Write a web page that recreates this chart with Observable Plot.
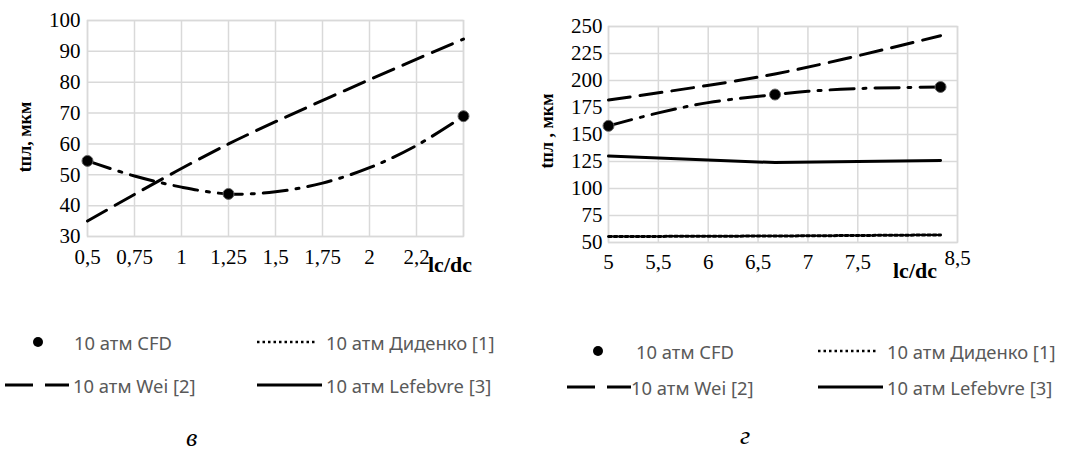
<!DOCTYPE html>
<html>
<head>
<meta charset="utf-8">
<script src="https://cdn.jsdelivr.net/npm/d3@7"></script>
<script src="https://cdn.jsdelivr.net/npm/@observablehq/plot@0.6"></script>
<style>
  html, body { margin: 0; padding: 0; background: #fff; }
  #wrap { position: relative; width: 1091px; height: 452px; background: #fff; overflow: hidden; }
  .chart { position: absolute; top: 0; }
  .chart text { font-family: "Liberation Serif", "Times New Roman", serif !important; font-size: 21px; fill: #000; }
  .legend { position: absolute; font-family: "Noto Sans", sans-serif; font-size: 18.4px; color: #595959; }
  .item { position: absolute; display: flex; align-items: center; white-space: nowrap; }
  .item svg { display: block; }
  .cap { position: absolute; font-family: "Liberation Serif", serif; font-style: italic; font-size: 26px; color: #000; line-height: 1; height: 26px; }
</style>
</head>
<body>
<div id="wrap"></div>
<script>
// ---- Data: chart "в" (left) ----
const leftX = [0.5, 1.25, 2.5];
const leftCFD = [54.5, 43.8, 69];
const leftWei = [35, 60, 94];
// dash-dot trend curve
const leftCurveX = [0.5, 0.75, 1, 1.25, 1.5, 1.75, 2, 2.25, 2.5];
const leftCurveY = [54.5, 49.6, 46, 43.8, 44.5, 47.3, 52.3, 59.5, 69];
const leftXTicks = [0.5, 0.75, 1, 1.25, 1.5, 1.75, 2, 2.25, 2.5];
const leftXLabels = ["0,5", "0,75", "1", "1,25", "1,5", "1,75", "2", "2,2", ""];
const leftYTicks = [30, 40, 50, 60, 70, 80, 90, 100];

// ---- Data: chart "г" (right) ----
const rightX = [5, 6.67, 8.33];
const rightCFD = [158, 187, 194];
const rightWei = [182, 206, 241.5];
const rightLefebvre = [130, 124, 126];
const rightDidenko = [55.5, 56, 57];
// dash-dot trend curve
const rightCurveX = [5, 5.5, 6, 6.67, 7, 7.5, 8, 8.33];
const rightCurveY = [158, 170, 179.5, 187, 190, 192.5, 193.5, 194];
const rightXTicks = [5, 5.5, 6, 6.5, 7, 7.5, 8, 8.5];
const rightXLabels = ["5", "5,5", "6", "6,5", "7", "7,5", "", "8,5"];
const rightYTicks = [50, 75, 100, 125, 150, 175, 200, 225, 250];

const legendItems = [
  {label: "10 атм CFD", kind: "dot"},
  {label: "10 атм Диденко [1]", kind: "dotted"},
  {label: "10 атм Wei [2]", kind: "dashed"},
  {label: "10 атм Lefebvre [3]", kind: "solid"}
];

const GRID = "#d9d9d9";
const DASH = "22,10";
const DASHDOT = "24,9,3,9";
const DOTTED = "3,2.5";
const SW = 3;
const SERIF = "Liberation Serif, Times New Roman, serif";

const pts = (xs, ys) => xs.map((x, i) => ({x, y: ys[i]}));
const wrap = document.getElementById("wrap");

function labelFor(ticks, labels) {
  return d => { const i = ticks.indexOf(d); return i >= 0 ? labels[i] : ""; };
}
const axisStyle = {fontFamily: SERIF, fontSize: 21, fill: "#000", tickSize: 0, label: null};

// ---- Left chart ----
const left = Plot.plot({
  width: 545, height: 290,
  marginLeft: 87, marginRight: 82, marginTop: 20, marginBottom: 54,
  style: {fontFamily: SERIF, fontSize: "21px", color: "#000", background: "transparent", overflow: "visible"},
  x: {domain: [0.5, 2.5]},
  y: {domain: [30, 100]},
  marks: [
    Plot.gridX(leftXTicks, {stroke: GRID, strokeOpacity: 1, strokeWidth: 1.5}),
    Plot.gridY(leftYTicks, {stroke: GRID, strokeOpacity: 1, strokeWidth: 1.5}),
    Plot.frame({stroke: GRID, strokeWidth: 1.5}),
    Plot.line(pts(leftX, leftWei), {x: "x", y: "y", curve: "catmull-rom", stroke: "#000", strokeWidth: SW, strokeDasharray: DASH}),
    Plot.line(pts(leftCurveX, leftCurveY), {x: "x", y: "y", curve: "catmull-rom", stroke: "#000", strokeWidth: SW, strokeDasharray: DASHDOT}),
    Plot.dot(pts(leftX, leftCFD), {x: "x", y: "y", r: 5.5, fill: "#000", stroke: "#666", strokeWidth: 1}),
    Plot.axisX(leftXTicks, {...axisStyle, tickPadding: 13, tickFormat: labelFor(leftXTicks, leftXLabels)}),
    Plot.axisY(leftYTicks, {...axisStyle, tickPadding: 7})
  ]
});
left.classList.add("chart");
left.style.left = "0px";
wrap.appendChild(left);

// ---- Right chart ----
const right = Plot.plot({
  width: 551, height: 290,
  marginLeft: 68, marginRight: 134, marginTop: 26, marginBottom: 48,
  style: {fontFamily: SERIF, fontSize: "21px", color: "#000", background: "transparent", overflow: "visible"},
  x: {domain: [5, 8.5]},
  y: {domain: [50, 250]},
  marks: [
    Plot.gridX(rightXTicks, {stroke: GRID, strokeOpacity: 1, strokeWidth: 1.5}),
    Plot.gridY(rightYTicks, {stroke: GRID, strokeOpacity: 1, strokeWidth: 1.5}),
    Plot.frame({stroke: GRID, strokeWidth: 1.5}),
    Plot.line(pts(rightX, rightDidenko), {x: "x", y: "y", stroke: "#000", strokeWidth: SW, strokeDasharray: DOTTED}),
    Plot.line(pts(rightX, rightLefebvre), {x: "x", y: "y", stroke: "#000", strokeWidth: SW}),
    Plot.line(pts(rightX, rightWei), {x: "x", y: "y", curve: "catmull-rom", stroke: "#000", strokeWidth: SW, strokeDasharray: DASH}),
    Plot.line(pts(rightCurveX, rightCurveY), {x: "x", y: "y", curve: "catmull-rom", stroke: "#000", strokeWidth: SW, strokeDasharray: DASHDOT}),
    Plot.dot(pts(rightX, rightCFD), {x: "x", y: "y", r: 5.5, fill: "#000", stroke: "#666", strokeWidth: 1}),
    Plot.axisX(rightXTicks.slice(0, 7), {...axisStyle, tickPadding: 12, tickFormat: labelFor(rightXTicks, rightXLabels)}),
    Plot.axisX(rightXTicks.slice(7), {...axisStyle, tickPadding: 8, tickFormat: labelFor(rightXTicks, rightXLabels)}),
    Plot.axisY(rightYTicks, {...axisStyle, tickPadding: 6})
  ]
});
right.classList.add("chart");
right.style.left = "540px";
wrap.appendChild(right);

// ---- Axis titles ----
function addTitles(svg, xt, yt) {
  const s = d3.select(svg);
  s.append("text").attr("x", xt.x).attr("y", xt.y).attr("text-anchor", "middle")
    .attr("font-weight", "bold").style("font-size", "22px")
    .text("lc/dc");
  s.append("text").attr("transform", `translate(${yt.x},${yt.y}) rotate(-90)`).attr("text-anchor", "middle")
    .attr("font-weight", "bold").style("font-size", "18px")
    .attr("dy", "0.35em").text(yt.text);
}
addTitles(left, {x: 450, y: 272}, {x: 25, y: 137, text: "tпл, мкм"});
addTitles(right, {x: 375, y: 278}, {x: 7, y: 131, text: "tпл , мкм"});

// ---- Legends ----
function swatch(kind) {
  const w = kind === "dashed" ? 64 : kind === "solid" ? 65 : 58;
  let inner = "";
  if (kind === "dot") inner = `<circle cx="${w/2}" cy="8" r="5" fill="#000"/>`;
  if (kind === "dotted") inner = `<line x1="0" y1="8" x2="${w}" y2="8" stroke="#000" stroke-width="2.5" stroke-dasharray="2.5,3"/>`;
  if (kind === "dashed") inner = `<line x1="0" y1="8" x2="${w}" y2="8" stroke="#000" stroke-width="3" stroke-dasharray="28,12"/>`;
  if (kind === "solid") inner = `<line x1="0" y1="8" x2="${w}" y2="8" stroke="#000" stroke-width="3"/>`;
  return `<svg width="${w}" height="16">${inner}</svg>`;
}
function addLegend(ox, row1, row2, pos) {
  const lg = document.createElement("div");
  lg.className = "legend";
  lg.style.left = "0px"; lg.style.top = "0px";
  legendItems.forEach((it, i) => {
    const p = pos[i];
    const d = document.createElement("div");
    d.className = "item";
    d.style.left = (ox + p.sx) + "px";
    d.style.top = ((i < 2 ? row1 : row2) - 13) + "px";
    d.style.height = "24px";
    d.innerHTML = swatch(it.kind) + `<span style="margin-left:${p.gap}px">${it.label}</span>`;
    lg.appendChild(d);
  });
  wrap.appendChild(lg);
}
addLegend(0, 343, 386, [
  {sx: 9, gap: 7}, {sx: 257, gap: 11}, {sx: 5, gap: 4}, {sx: 257, gap: 4}
]);
addLegend(545, 352, 388, [
  {sx: 24, gap: 9}, {sx: 273, gap: 11}, {sx: 22, gap: 0}, {sx: 273, gap: 4}
]);

// ---- Captions ----
[["в", 193, 425], ["г", 747, 423]].forEach(([t, x, top]) => {
  const c = document.createElement("div");
  c.className = "cap";
  c.textContent = t;
  c.style.left = (x - 7) + "px";
  c.style.top = top + "px";
  wrap.appendChild(c);
});
</script>
</body>
</html>
